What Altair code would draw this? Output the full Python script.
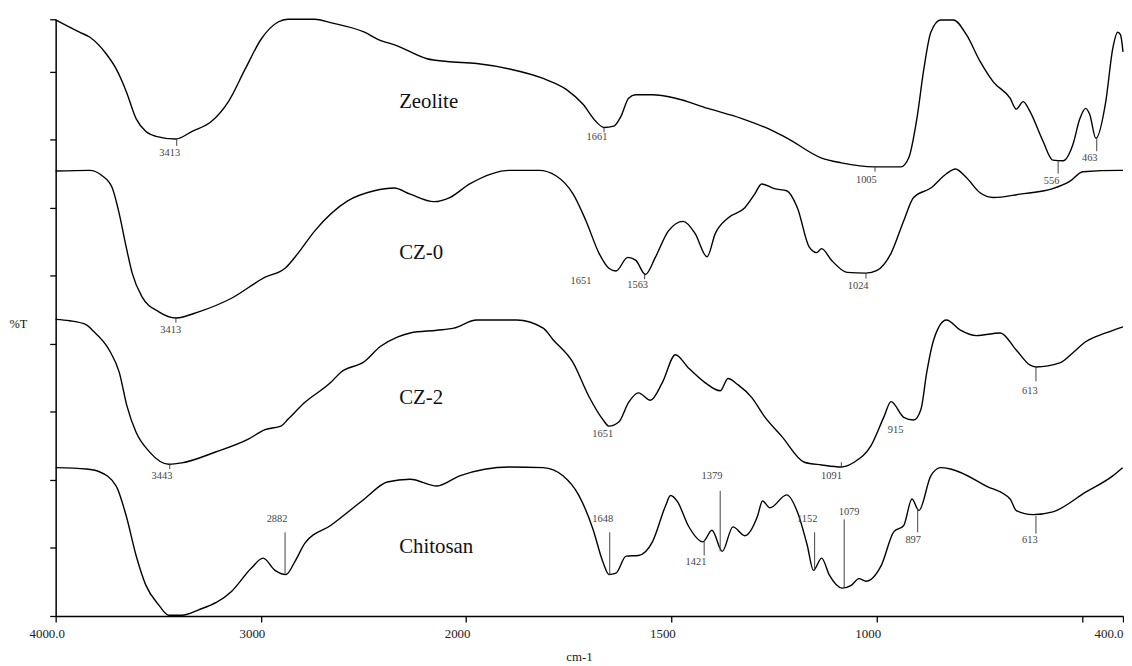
import altair as alt
import pandas as pd

# ---- data (wavenumber cm-1, %T with stacking offset) ----
ZEOLITE = [(4000,87.6),(3884,85.8),(3835,85.1),(3753,82.6),(3705,80.4),(3656,77.1),(3608,73.1),(3560,71.2),
           (3511,70.5),(3414,70.1),(3337,71.2),(3240,72.7),(3158,75.6),(3076,80.4),(2998,84.8),(2916,87.3),
           (2868,87.7),(2737,87.7),(2660,87.2),(2495,85.8),(2432,84.8),(2335,83.8),(2190,81.9),(2093,81.5),
           (1974,81.2),(1894,80.4),(1812,79.0),(1756,77.4),(1715,75.2),(1684,72.7),(1664,71.8),(1640,72.0),
           (1623,73.4),(1604,76.1),(1587,76.6),(1546,76.6),(1490,76.1),(1411,74.6),(1328,73.1),(1249,71.2),
           (1217,70.2),(1134,67.3),(1086,66.6),(1006,66.0),(941,66.0),(922,67.3),(902,73.1),(885,80.4),
           (868,85.8),(844,87.6),(813,87.6),(781,85.4),(748,81.5),(716,78.5),(675,76.1),(660,74.5),
           (643,75.6),(627,74.2),(595,69.8),(571,67.0),(546,66.9),(522,69.3),(505,73.1),(491,74.6),
           (481,73.7),(466,70.2),(442,75.6),(425,83.4),(413,85.8),(406,85.4),(400,82.9)]

CZ0 = [(4000,65.4),(3835,65.5),(3773,64.7),(3724,62.9),(3690,59.1),(3656,54.2),(3627,50.4),(3579,46.9),
       (3497,44.7),(3414,43.8),(3303,44.7),(3143,46.7),(2979,49.8),(2882,51.1),(2819,53.3),(2737,56.6),
       (2577,61.0),(2447,62.5),(2350,62.9),(2272,62.0),(2156,60.9),(2079,61.5),(1991,63.5),(1894,65.5),
       (1822,65.5),(1781,64.7),(1739,62.0),(1708,58.1),(1676,53.3),(1652,51.1),(1635,50.7),(1606,52.7),
       (1587,52.3),(1563,50.2),(1539,52.7),(1507,56.6),(1471,58.0),(1442,56.2),(1413,52.8),(1393,56.2),
       (1362,58.5),(1321,60.0),(1297,62.0),(1280,63.5),(1249,62.8),(1219,62.5),(1193,60.0),(1164,54.2),
       (1146,53.4),(1134,54.0),(1110,52.3),(1072,50.5),(1026,50.4),(999,50.8),(965,53.3),(934,58.1),
       (910,61.5),(868,62.9),(830,65.0),(808,65.7),(781,64.4),(748,62.2),(716,61.5),(651,62.0),
       (571,62.8),(529,63.9),(498,65.3),(408,65.5),(400,65.5)]

CZ2 = [(4000,43.6),(3932,43.4),(3850,42.8),(3821,42.0),(3739,39.1),(3690,35.8),(3652,30.8),(3608,27.0),
       (3545,24.2),(3448,22.3),(3385,22.5),(3221,24.1),(3061,26.0),(2979,27.4),(2902,27.9),(2868,28.9),
       (2785,31.4),(2660,34.3),(2611,35.8),(2495,37.4),(2418,39.6),(2335,41.0),(2272,41.6),(2142,42.0),
       (2060,42.3),(1974,43.5),(1877,43.5),(1812,42.3),(1788,40.6),(1739,37.2),(1701,32.3),(1667,28.9),
       (1652,27.9),(1628,28.5),(1604,31.4),(1580,32.8),(1551,31.7),(1522,34.3),(1490,38.4),(1459,36.5),
       (1418,34.3),(1381,33.1),(1362,34.9),(1338,34.0),(1304,32.1),(1273,29.3),(1231,26.4),(1176,22.6),
       (1134,22.2),(1086,21.9),(1055,22.6),(1014,25.0),(982,29.3),(965,31.5),(934,29.2),(910,28.8),
       (892,30.4),(878,35.8),(861,40.6),(830,43.5),(796,42.0),(757,41.2),(699,41.6),(660,39.1),
       (627,36.9),(612,36.6),(554,37.2),(522,38.7),(491,40.3),(442,41.6),(400,42.5)]

CHITOSAN = [(4000,21.8),(3850,21.6),(3787,21.2),(3705,19.1),(3656,14.7),(3608,8.9),(3560,4.5),(3497,1.6),
            (3448,0.1),(3385,0.1),(3303,0.9),(3143,3.6),(3047,7.0),(2989,8.5),(2931,6.7),(2877,6.1),
            (2834,8.0),(2785,10.7),(2660,13.3),(2495,17.2),(2384,19.7),(2272,20.1),(2142,19.1),(2031,20.6),
            (1894,21.9),(1812,21.8),(1764,20.6),(1725,17.7),(1691,12.8),(1667,8.0),(1652,6.1),(1635,6.3),
            (1610,8.8),(1580,8.9),(1546,10.9),(1514,16.2),(1502,17.7),(1485,16.8),(1459,13.3),(1423,10.9),
            (1401,12.6),(1376,9.5),(1350,13.1),(1321,11.8),(1290,14.7),(1278,16.9),(1260,15.9),(1219,17.8),
            (1193,15.3),(1169,10.4),(1154,6.7),(1134,8.5),(1115,6.0),(1084,4.1),(1062,4.5),(1043,5.5),
            (1026,5.1),(989,7.4),(958,12.4),(934,13.3),(914,17.2),(897,15.5),(868,20.6),(844,21.8),
            (820,21.6),(733,19.1),(675,17.2),(660,15.5),(619,14.9),(571,15.3),(491,18.2),(425,20.6),(401,21.8)]

SERIES = {"Zeolite": ZEOLITE, "CZ-0": CZ0, "CZ-2": CZ2, "Chitosan": CHITOSAN}

# sample names: (text, wavenumber at left edge, level)
SAMPLE_LABELS = [("Zeolite", 2326, 75.6), ("CZ-0", 2326, 53.4), ("CZ-2", 2326, 32.1), ("Chitosan", 2326, 10.1)]

# peak marker lines: (wavenumber, top level, bottom level)
PEAK_TICKS = [(3410,70.1,69.1),(1664,71.8,71.1),(1004,66.0,65.3),(558,66.9,65.0),(464,70.2,68.3),
              (3414,43.8,43.1),(1565,50.2,49.5),(1026,50.4,49.6),
              (3444,22.3,21.6),(1086,22.6,21.9),(612,36.6,34.5),
              (2882,12.3,6.3),(1650,12.3,6.0),(1381,18.4,9.5),(1420,10.9,8.9),(1151,12.3,6.7),
              (1079,14.2,4.1),(900,15.8,12.3),(612,14.7,12.1)]

# peak labels: (text, wavenumber, level)
PEAK_LABELS = [("3413",3444,68.0),("1661",1681,70.4),("1005",1025,64.1),("556",574,63.9),("463",481,67.3),
               ("3413",3439,42.0),("1651",1720,49.2),("1563",1582,48.6),("1024",1045,48.5),
               ("3443",3482,20.6),("1651",1667,26.7),("1091",1110,20.6),("915",954,27.4),("613",627,33.0),
               ("2882",2921,14.2),("1648",1667,14.2),("1379",1401,20.6),("1421",1440,8.0),("1152",1169,14.2),
               ("1079",1067,15.3),("897",911,11.1),("613",627,11.1)]

X_TICKS = [4000, 3000, 2000, 1500, 1000, 500, 400]
Y_TICKS = [0, 10, 20, 30, 40, 50, 60, 70, 80, 87.7]

# ---- tables ----
rows = []
for name, pts in SERIES.items():
    for wn, t in pts:
        rows.append({"series": name, "wn": wn, "t": t})
df_lines = pd.DataFrame(rows)
df_names = pd.DataFrame(SAMPLE_LABELS, columns=["label", "wn", "t"])
df_ticks = pd.DataFrame(PEAK_TICKS, columns=["wn", "t", "t2"])
df_plabels = pd.DataFrame(PEAK_LABELS, columns=["label", "wn", "t"])

SERIF = "Liberation Serif"
W, H = 1075, 601

x_scale = alt.Scale(domain=[4000, 2000, 400], range=[0, 413.3, W], nice=False, zero=False)
y_scale = alt.Scale(domain=[0, 87.7], nice=False, zero=False)

x_axis = alt.Axis(values=X_TICKS,
                  labelExpr="datum.value == 4000 ? '4000.0' : datum.value == 400 ? '400.0' : datum.value == 500 ? '' : '' + datum.value",
                  title="cm-1", grid=False, tickSize=6, tickColor="black", tickWidth=1.3,
                  domainColor="black", domainWidth=1.5,
                  labelFont=SERIF, labelFontSize=13, labelColor="#222", labelPadding=6,
                  labelAlign={"condition": {"test": "datum.value == 400", "value": "right"}, "value": "center"},
                  labelOffset={"condition": {"test": "datum.value == 400", "value": 0}, "value": -9},
                  labelOverlap=False, labelFlush=False,
                  titleFont=SERIF, titleFontSize=13, titleFontWeight="normal", titleColor="#222",
                  titlePadding=10, titleX=527, titleAlign="center")
y_axis = alt.Axis(values=Y_TICKS, labels=False, title="%T", titleAngle=0, titleX=-38, titleY=306,
                  titleAlign="center", titleBaseline="middle", titleFont=SERIF, titleFontSize=12.5,
                  titleFontWeight="normal", titleColor="#111", grid=False, tickSize=6,
                  tickColor="black", tickWidth=1.3, domainColor="black", domainWidth=1.5)

X = alt.X("wn:Q", scale=x_scale, axis=x_axis)
Y = alt.Y("t:Q", scale=y_scale, axis=y_axis)

lines = alt.Chart(df_lines).mark_line(color="black", strokeWidth=1.4, interpolate="monotone").encode(
    x=X, y=Y, detail="series:N")

ticks = alt.Chart(df_ticks).mark_rule(color="#444", strokeWidth=1).encode(
    x=alt.X("wn:Q", scale=x_scale), y=alt.Y("t:Q", scale=y_scale), y2="t2:Q")

plabels = alt.Chart(df_plabels).mark_text(font=SERIF, fontSize=10.5, color="#444",
                                          align="center", baseline="middle").encode(
    x=alt.X("wn:Q", scale=x_scale), y=alt.Y("t:Q", scale=y_scale), text="label:N")

names = alt.Chart(df_names).mark_text(font=SERIF, fontSize=21, color="#111",
                                      align="left", baseline="middle").encode(
    x=alt.X("wn:Q", scale=x_scale), y=alt.Y("t:Q", scale=y_scale), text="label:N")

chart = alt.layer(lines, ticks, plabels, names).properties(
    width=W, height=H,
    autosize=alt.AutoSizeParams(type="none"),
    padding={"left": 48, "top": 9, "right": 1, "bottom": 48},
).configure_view(stroke=None)

chart.save("out.html", embed_options={"renderer": "svg", "actions": False})
